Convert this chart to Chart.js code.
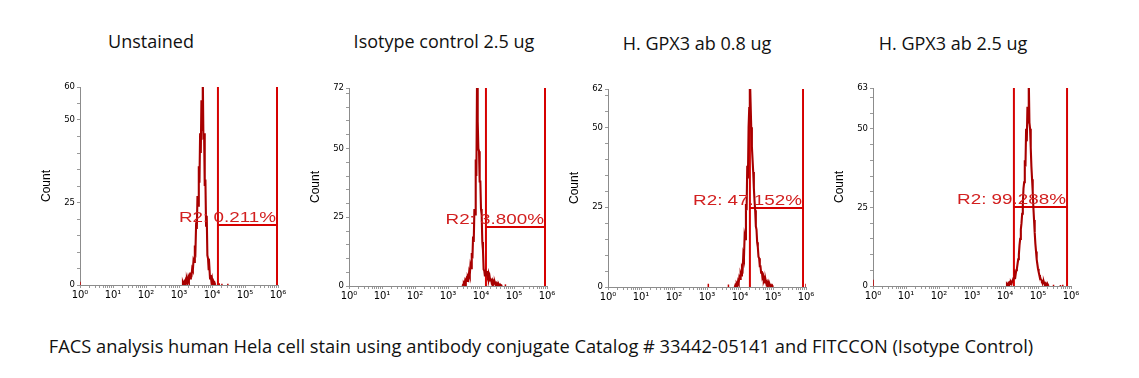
<!DOCTYPE html>
<html>
<head>
    <title>FACS analysis</title>
    <script src="https://cdn.jsdelivr.net/npm/chart.js"></script>
    <style>
        body { margin: 0; background: #fff; width: 1139px; height: 378px; position: relative; overflow: hidden; }
        canvas { position: absolute; }
        .titulo { position: absolute; font-family: "Open Sans", sans-serif; font-size: 18px; color: #111; white-space: nowrap; transform: translateX(-50%); }
        #legenda { position: absolute; left: 541px; top: 333px; font-family: "Open Sans", sans-serif; font-size: 18.3px; color: #111; white-space: nowrap; transform: translateX(-50%); }
    </style>
</head>
<body>
    <div class="titulo" style="left:151px; top:29px">Unstained</div>
    <div class="titulo" style="left:444px; top:29px">Isotype control 2.5 ug</div>
    <div class="titulo" style="left:697px; top:31px">H. GPX3 ab 0.8 ug</div>
    <div class="titulo" style="left:953px; top:31px">H. GPX3 ab 2.5 ug</div>
    <div id="legenda">FACS analysis human Hela cell stain using antibody conjugate Catalog # 33442-05141 and FITCCON (Isotype Control)</div>

    <canvas id="c1" width="254" height="230" style="left:38px; top:79px"></canvas>
    <canvas id="c2" width="254" height="230" style="left:307px; top:80px"></canvas>
    <canvas id="c3" width="254" height="230" style="left:566px; top:81px"></canvas>
    <canvas id="c4" width="254" height="230" style="left:831px; top:80px"></canvas>

    <script>
        // Títulos dos painéis
        const titles = ["Unstained", "Isotype control 2.5 ug", "H. GPX3 ab 0.8 ug", "H. GPX3 ab 2.5 ug"];

        // Escala X em décadas (10^0 .. 10^6), largura do canal do histograma
        const decades = [0, 1, 2, 3, 4, 5, 6];
        const binWidth = 0.02;

        // Máximos do eixo Y e rótulos
        const yMaxes = [60, 72, 62, 63];
        const yLabels = [[0, 25, 50, 60], [0, 25, 50, 72], [0, 25, 50, 62], [0, 25, 50, 63]];

        // Histogramas (contagens por canal), início em décadas
        const starts = [3.10, 3.44, 3.84, 4.04];
        const counts1 = [0, 0.6, 0, 0.8, 0.2, 1.2, 0.4, 1.6, 0.8, 2.2, 1.4, 2.6, 2, 3.2, 3, 5, 4.5, 7.5, 7, 12,
            11, 19, 17, 27, 24, 36, 31, 46, 40, 56, 47, 64, 44, 46, 30, 32, 18, 21, 9, 8,
            4.5, 5.5, 2, 3, 1.2, 2, 0.5, 1, 0.2, 0.6, 0];
        const counts2 = [0, 0.5, 1, 0.6, 2, 1.4, 2.5, 1.8, 3.2, 2.6, 5, 4, 7.5, 6.5, 12, 10, 18, 16, 28, 26,
            46, 40, 75, 60, 50, 49, 38, 38, 28, 26, 16, 13, 6, 5.5, 3.5, 5, 4, 5.5, 3.5, 4.5,
            2.5, 3.5, 2, 2.7, 1.4, 2, 1, 1.6, 0.8, 1.3, 0.5, 1, 0.4, 0.8, 0.2, 0.5, 0, 0.4, 0, 0.2, 0];
        const counts3 = [0, 0.6, 0.3, 1, 0.6, 1.8, 1.2, 3, 2.5, 4.2, 3.6, 6, 5.5, 10, 9, 16, 15, 26, 24, 38,
            34, 50, 56, 66, 58, 50, 44, 40, 36, 31, 27, 24, 19, 18, 14, 12.5, 9.5, 9, 6.5, 6.5,
            4.5, 5, 3, 3.5, 2, 2.6, 1.4, 2, 1, 1.5, 0.6, 1.2, 0.4, 0.8, 0.2, 0.5, 0, 0.4, 0];
        const counts4 = [0, 0.5, 0.2, 0.8, 0.4, 1, 0.6, 1.2, 0.8, 1.5, 1.5, 2.5, 2.5, 4, 3.5, 5, 5.5, 7, 8.5, 10,
            13, 15, 18, 20, 23, 26, 31, 33, 40, 38, 50, 46, 57, 52, 66, 52, 50, 44, 38, 34,
            30, 25, 21, 17, 13.5, 11, 8.5, 7, 5.5, 4.5, 3.5, 3, 2.2, 2, 1.4, 1.5, 0.9, 1.2, 0.5, 0.8,
            0.3, 0.6, 0, 0.4, 0];

        // Eventos isolados [posição em décadas, contagem]
        const spikes1 = [[0.0, 1], [3.16, 0.6], [4.22, 0.5], [4.30, 0.4], [4.48, 0.4]];
        const spikes2 = [[4.74, 0.6]];
        const spikes3 = [[3.04, 1], [3.65, 0.8], [6.0, 1]];
        const spikes4 = [[0.0, 2], [5.47, 0.4], [5.68, 0.3], [5.75, 0.4]];

        // Gate R2: limite esquerdo, direito, altura da barra e percentagem
        const gateLeft = [4.18, 4.15, 4.30, 4.27];
        const gateRight = [5.97, 5.94, 5.91, 5.88];
        const gateLevel = [18.2, 21.5, 24.7, 25.1];
        const gateLabels = ["R2: 0.211%", "R2: 3.800%", "R2: 47.152%", "R2: 99.288%"];

        const allCounts = [counts1, counts2, counts3, counts4];
        const allSpikes = [spikes1, spikes2, spikes3, spikes4];
        const sup = ["\u2070", "\u00b9", "\u00b2", "\u00b3", "\u2074", "\u2075", "\u2076"];

        // Plugin para escrever o rótulo do gate (fonte esticada na horizontal como no original)
        const gateText = {
            id: "gateText",
            afterDatasetsDraw(chart, args, opts) {
                const c = chart.ctx;
                const xs = chart.scales.x, ys = chart.scales.y;
                c.save();
                c.translate(xs.getPixelForValue(opts.x) - 1, ys.getPixelForValue(opts.y) - 3);
                c.scale(1.3, 1);
                c.font = "14.5px 'Liberation Sans'";
                c.fillStyle = "#d21f1f";
                c.textAlign = "right";
                c.textBaseline = "alphabetic";
                c.fillText(opts.text, 0, 0);
                c.restore();
            }
        };

        function makePanel(i) {
            const hist = allCounts[i].map((v, k) => ({ x: starts[i] + k * binWidth, y: v }));
            const spk = [];
            allSpikes[i].forEach(s => {
                spk.push({ x: s[0], y: 0 }, { x: s[0], y: s[1] }, { x: s[0], y: null });
            });
            const yMax = yMaxes[i];
            const xTicks = [];
            decades.forEach(d => {
                xTicks.push(d);
                if (d < 6) for (let m = 2; m <= 9; m++) xTicks.push(d + Math.log10(m));
            });
            const yTicks = [];
            for (let v = 0; v < yMax; v += 5) yTicks.push(v);
            yTicks.push(yMax);

            new Chart(document.getElementById("c" + (i + 1)).getContext("2d"), {
                type: "line",
                data: {
                    datasets: [
                        { data: hist, borderColor: "#a80000", borderWidth: 2.1 },
                        { data: spk, borderColor: "#c00000", borderWidth: 1.5, spanGaps: false },
                        { data: [{ x: gateLeft[i], y: 0 }, { x: gateLeft[i], y: yMax }], borderColor: "#d60000", borderWidth: 2 },
                        { data: [{ x: gateRight[i], y: 0 }, { x: gateRight[i], y: yMax }], borderColor: "#d60000", borderWidth: 2 },
                        { data: [{ x: gateLeft[i], y: gateLevel[i] }, { x: gateRight[i], y: gateLevel[i] }], borderColor: "#d60000", borderWidth: 2 }
                    ]
                },
                options: {
                    responsive: false,
                    animation: false,
                    events: [],
                    elements: { point: { radius: 0 }, line: { tension: 0, fill: false } },
                    layout: { padding: { top: 8, right: 14, left: 0, bottom: 0 } },
                    plugins: {
                        legend: { display: false },
                        tooltip: { enabled: false },
                        gateText: { text: gateLabels[i], x: gateRight[i], y: gateLevel[i] }
                    },
                    scales: {
                        x: {
                            type: "linear", min: 0, max: 6,
                            afterBuildTicks: s => { s.ticks = xTicks.map(v => ({ value: v })); },
                            afterFit: s => { s.height = 24; },
                            ticks: {
                                autoSkip: false, maxRotation: 0, padding: 1,
                                color: "#000", font: { family: "DejaVu Sans", size: 10 },
                                callback: v => Number.isInteger(v) ? "10" + sup[v] : ""
                            },
                            grid: { drawOnChartArea: false, tickLength: 3, color: "#9a9a9a" },
                            border: { color: "#8c8c8c" }
                        },
                        y: {
                            min: 0, max: yMax,
                            afterBuildTicks: s => { s.ticks = yTicks.map(v => ({ value: v })); },
                            afterFit: s => { s.width = 42; },
                            ticks: {
                                autoSkip: false, padding: 2,
                                color: "#000", font: { family: "DejaVu Sans", size: 8.5 },
                                callback: v => yLabels[i].includes(v) ? String(v) : ""
                            },
                            title: { display: true, text: "Count", color: "#000", padding: 1, font: { family: "Liberation Sans", size: 12 } },
                            grid: { drawOnChartArea: false, tickLength: 3, color: "#9a9a9a" },
                            border: { color: "#8c8c8c" }
                        }
                    }
                },
                plugins: [gateText]
            });
        }

        titles.forEach((t, i) => makePanel(i));
    </script>
</body>
</html>
